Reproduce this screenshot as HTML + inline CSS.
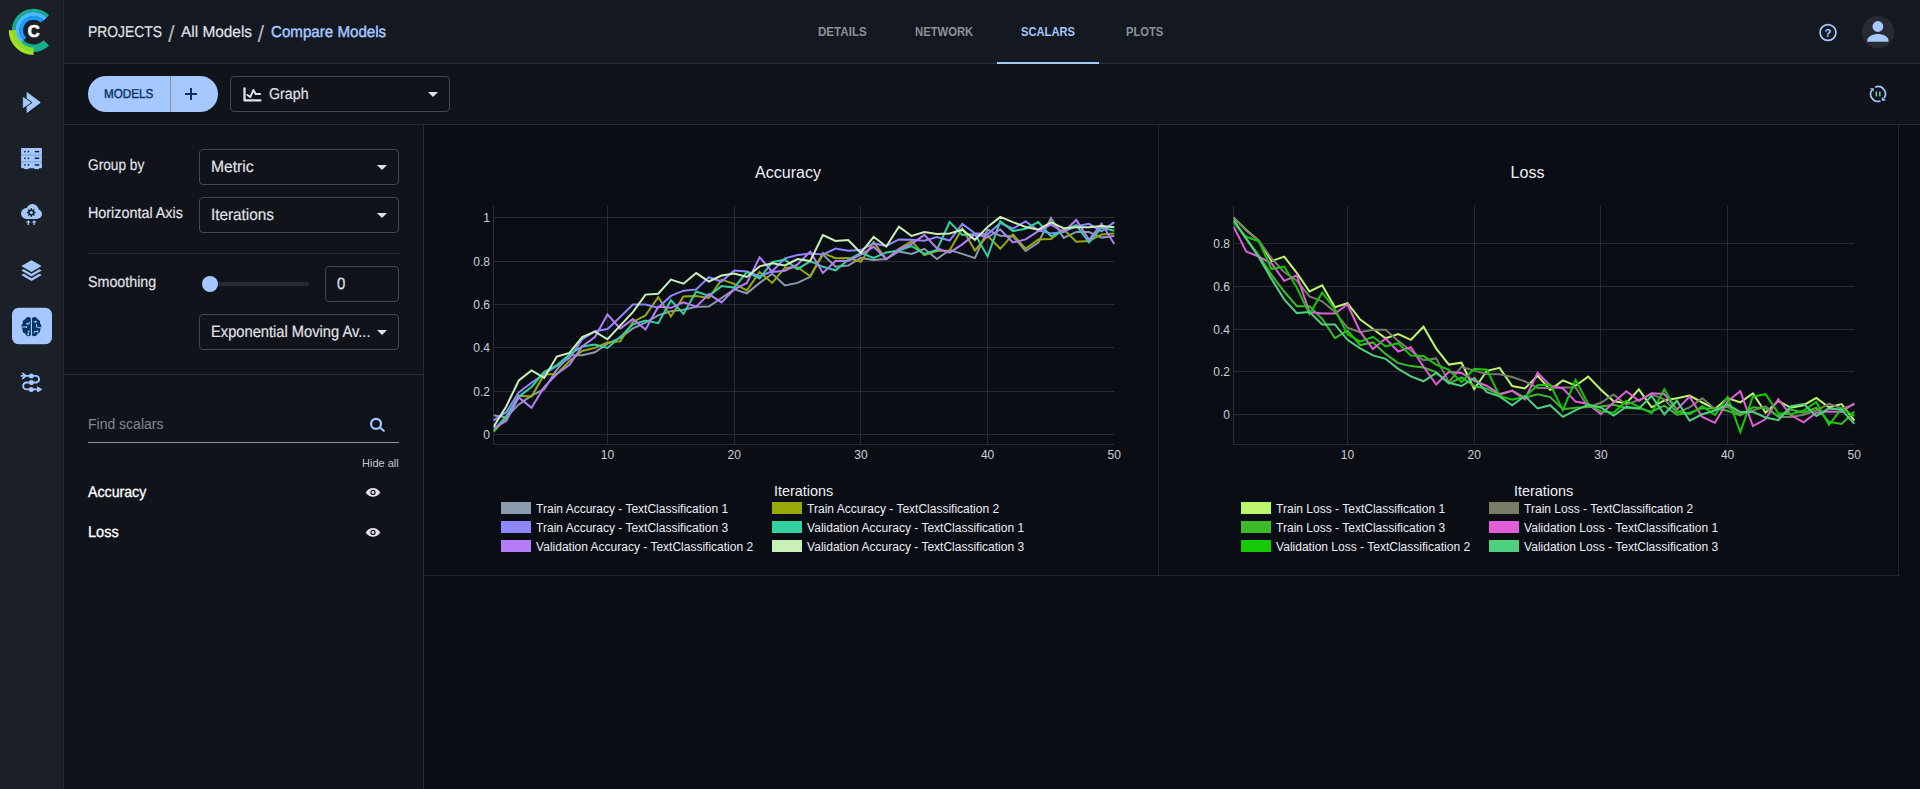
<!DOCTYPE html>
<html lang="en"><head><meta charset="utf-8"><title>ClearML - Compare Models</title>
<style>
*{box-sizing:border-box;margin:0;padding:0}
html,body{width:1920px;height:789px;overflow:hidden;background:#10131a;font-family:"Liberation Sans",sans-serif;color:#e1e2e9}
.abs{position:absolute}
#sidebar{position:absolute;left:0;top:0;width:64px;height:789px;background:#1b1f27;border-right:1px solid #272b34}
#header{position:absolute;left:64px;top:0;width:1856px;height:64px;background:#141820;border-bottom:1px solid #272b34}
#toolbar{position:absolute;left:64px;top:64px;width:1856px;height:61px;background:#10131a;border-bottom:1px solid #272b34}
#leftpanel{position:absolute;left:64px;top:125px;width:360px;height:664px;background:#10131a;border-right:1px solid #272b34}
#main{position:absolute;left:424px;top:125px;width:1496px;height:664px;background:#0a0d14}
#card1{position:absolute;left:424px;top:125px;width:735px;height:451px;border-right:1px solid #22252e;border-bottom:1px solid #22252e}
#card2{position:absolute;left:1159px;top:125px;width:740px;height:451px;border-right:1px solid #22252e;border-bottom:1px solid #22252e}
.t{position:absolute;white-space:nowrap;line-height:1}
.crumb{font-size:14.5px;color:#e1e2e9;top:24.5px}
.tab{font-size:12.5px;font-weight:bold;color:#8d9199;top:25.7px;transform-origin:0 50%}
.tab.on{color:#a4c8ff}
.lbl{font-size:14px;color:#e1e2e9}
.sel{position:absolute;border:1px solid #43474e;border-radius:4px;height:37px;background:transparent}
.sel .v{position:absolute;left:11px;top:8.4px;font-size:15px;color:#e1e2e9;white-space:nowrap;line-height:1}
.caret{position:absolute;width:0;height:0;border-left:5px solid transparent;border-right:5px solid transparent;border-top:5px solid #e1e2e9}
svg{position:absolute;left:0;top:0;overflow:visible}
.tick{font-family:"Liberation Sans",sans-serif;font-size:12px;fill:#cdd0d8}
.ctitle{font-family:"Liberation Sans",sans-serif;font-size:16px;fill:#eef0f6}
.xtitle{font-family:"Liberation Sans",sans-serif;font-size:14.4px;fill:#eef0f6}
.leg{font-family:"Liberation Sans",sans-serif;font-size:12px;fill:#eceef4}

</style></head>
<body>
<div id="main"></div>
<div id="card1"></div>
<div id="card2"></div>
<div id="sidebar"></div>
<div id="header"></div>
<div id="toolbar"></div>
<div id="leftpanel"></div>

<!-- header text -->
<div class="t" id="s1" style="left:168.1px;top:21.5px;font-size:24px;color:#aeb1ba">/</div>
<div class="t" id="s2" style="left:257.6px;top:21.5px;font-size:24px;color:#aeb1ba">/</div>

<div class="t tab" id="t1" style="left:818.3px;transform:scaleX(0.927)">DETAILS</div>
<div class="t tab" id="t2" style="left:915px;transform:scaleX(0.902)">NETWORK</div>
<div class="t tab on" id="t3" style="left:1021.2px;transform:scaleX(0.894)">SCALARS</div>
<div class="t tab" id="t4" style="left:1125.8px;transform:scaleX(0.894)">PLOTS</div>
<div class="abs" style="left:997px;top:62px;width:102px;height:2px;background:#a4c8ff"></div>

<!-- toolbar -->
<div class="abs" id="modelsbtn" style="left:88px;top:76px;width:130px;height:36px;border-radius:18px;background:#a4c8ff"></div>
<div class="abs" style="left:170px;top:76px;width:1px;height:36px;background:#8a8f9b"></div>
<div class="abs" style="left:185px;top:93px;width:12px;height:2px;background:#0a3160"></div>
<div class="abs" style="left:190px;top:88px;width:2px;height:12px;background:#0a3160"></div>

<div class="sel" style="left:230px;top:76px;width:220px;height:36px"><div class="caret" style="left:197px;top:15px"></div></div>

<!-- left panel -->
<div class="sel" style="left:199px;top:149px;width:200px;height:36px"><div class="caret" style="left:177px;top:15px"></div></div>
<div class="sel" style="left:199px;top:197px;width:200px;height:36px"><div class="caret" style="left:177px;top:15px"></div></div>
<div class="abs" style="left:88px;top:253px;width:311px;height:1px;background:#272b34"></div>
<div class="abs" style="left:210px;top:282px;width:99px;height:4px;border-radius:2px;background:#272a31"></div>
<div class="abs" style="left:202px;top:276px;width:16px;height:16px;border-radius:8px;background:#a4c8ff"></div>
<div class="sel" style="left:325px;top:266px;width:74px;height:36px"></div>
<div class="sel" style="left:199px;top:314px;width:200px;height:36px"><div class="caret" style="left:177px;top:15px"></div></div>
<div class="abs" style="left:64px;top:374px;width:359px;height:1px;background:#272b34"></div>

<div class="t" id="find" style="left:88px;top:417px;font-size:14px;color:#83878f">Find scalars</div>
<div class="abs" style="left:88px;top:442px;width:311px;height:1px;background:#8d9199"></div>
<div class="t" id="hide" style="left:362px;top:458px;font-size:11px;color:#c4c6cf">Hide all</div>

<div class="t" id="c1" style="text-rendering:geometricPrecision;left:87.50px;top:25.40px;font-size:15.7px;color:#e1e2e9;transform:scaleX(0.8848);transform-origin:0 50%;-webkit-text-stroke:0.18px #e1e2e9;">PROJECTS</div>
<div class="t" id="c2" style="text-rendering:geometricPrecision;left:180.60px;top:25.40px;font-size:15.7px;color:#e1e2e9;transform:scaleX(0.9818);transform-origin:0 50%;-webkit-text-stroke:0.18px #e1e2e9;">All Models</div>
<div class="t" id="c3" style="text-rendering:geometricPrecision;left:271.10px;top:25.40px;font-size:15.7px;color:#a4c8ff;transform:scaleX(0.9637);transform-origin:0 50%;-webkit-text-stroke:0.45px #a4c8ff;">Compare Models</div>
<div class="t" id="models" style="text-rendering:geometricPrecision;left:103.60px;top:87.85px;font-size:12.9px;color:#0a3160;transform:scaleX(0.9068);transform-origin:0 50%;-webkit-text-stroke:0.4px #0a3160;">MODELS</div>
<div class="t" id="graph" style="text-rendering:geometricPrecision;left:268.50px;top:87.45px;font-size:15.6px;color:#e1e2e9;transform:scaleX(0.9133);transform-origin:0 50%;-webkit-text-stroke:0.18px #e1e2e9;">Graph</div>
<div class="t" id="l1" style="text-rendering:geometricPrecision;left:87.60px;top:157.70px;font-size:15.5px;color:#e1e2e9;transform:scaleX(0.8831);transform-origin:0 50%;-webkit-text-stroke:0.18px #e1e2e9;">Group by</div>
<div class="t" id="l2" style="text-rendering:geometricPrecision;left:87.60px;top:205.70px;font-size:15.5px;color:#e1e2e9;transform:scaleX(0.9257);transform-origin:0 50%;-webkit-text-stroke:0.18px #e1e2e9;">Horizontal Axis</div>
<div class="t" id="l3" style="text-rendering:geometricPrecision;left:87.60px;top:275.48px;font-size:15.5px;color:#e1e2e9;transform:scaleX(0.9203);transform-origin:0 50%;-webkit-text-stroke:0.18px #e1e2e9;">Smoothing</div>
<div class="t" id="v1" style="text-rendering:geometricPrecision;left:210.80px;top:158.85px;font-size:16.3px;color:#e1e2e9;transform:scaleX(0.9623);transform-origin:0 50%;-webkit-text-stroke:0.18px #e1e2e9;">Metric</div>
<div class="t" id="v2" style="text-rendering:geometricPrecision;left:210.80px;top:206.85px;font-size:16.3px;color:#e1e2e9;transform:scaleX(0.9396);transform-origin:0 50%;-webkit-text-stroke:0.18px #e1e2e9;">Iterations</div>
<div class="t" id="v3" style="text-rendering:geometricPrecision;left:336.60px;top:275.85px;font-size:16.3px;color:#e1e2e9;transform:scaleX(0.9156);transform-origin:0 50%;-webkit-text-stroke:0.18px #e1e2e9;">0</div>
<div class="t" id="v4" style="text-rendering:geometricPrecision;left:210.80px;top:323.85px;font-size:16.3px;color:#e1e2e9;transform:scaleX(0.9023);transform-origin:0 50%;-webkit-text-stroke:0.18px #e1e2e9;">Exponential Moving Av...</div>
<div class="t" id="m1" style="text-rendering:geometricPrecision;left:87.60px;top:485.48px;font-size:15.5px;color:#ffffff;transform:scaleX(0.9146);transform-origin:0 50%;-webkit-text-stroke:0.3px #ffffff;">Accuracy</div>
<div class="t" id="m2" style="text-rendering:geometricPrecision;left:87.60px;top:525.48px;font-size:15.5px;color:#ffffff;transform:scaleX(0.9407);transform-origin:0 50%;-webkit-text-stroke:0.3px #ffffff;">Loss</div>
<svg width="1920" height="789" viewBox="0 0 1920 789">
<line x1="607.5" y1="205.5" x2="607.5" y2="444.5" stroke="#272a33" stroke-width="1"/>
<line x1="734.5" y1="205.5" x2="734.5" y2="444.5" stroke="#272a33" stroke-width="1"/>
<line x1="860.5" y1="205.5" x2="860.5" y2="444.5" stroke="#272a33" stroke-width="1"/>
<line x1="987.5" y1="205.5" x2="987.5" y2="444.5" stroke="#272a33" stroke-width="1"/>
<line x1="493.5" y1="434.5" x2="1114.3" y2="434.5" stroke="#272a33" stroke-width="1"/>
<text x="490.0" y="438.6" text-anchor="end" class="tick">0</text>
<line x1="493.5" y1="391.5" x2="1114.3" y2="391.5" stroke="#272a33" stroke-width="1"/>
<text x="490.0" y="395.6" text-anchor="end" class="tick">0.2</text>
<line x1="493.5" y1="347.5" x2="1114.3" y2="347.5" stroke="#272a33" stroke-width="1"/>
<text x="490.0" y="351.6" text-anchor="end" class="tick">0.4</text>
<line x1="493.5" y1="304.5" x2="1114.3" y2="304.5" stroke="#272a33" stroke-width="1"/>
<text x="490.0" y="308.6" text-anchor="end" class="tick">0.6</text>
<line x1="493.5" y1="261.5" x2="1114.3" y2="261.5" stroke="#272a33" stroke-width="1"/>
<text x="490.0" y="265.6" text-anchor="end" class="tick">0.8</text>
<line x1="493.5" y1="217.5" x2="1114.3" y2="217.5" stroke="#272a33" stroke-width="1"/>
<text x="490.0" y="221.6" text-anchor="end" class="tick">1</text>
<line x1="493.5" y1="205.5" x2="493.5" y2="444.5" stroke="#292c36" stroke-width="1"/>
<line x1="493.5" y1="444.5" x2="1114.3" y2="444.5" stroke="#292c36" stroke-width="1"/>
<text x="607.5" y="459" text-anchor="middle" class="tick">10</text>
<text x="734.2" y="459" text-anchor="middle" class="tick">20</text>
<text x="860.9" y="459" text-anchor="middle" class="tick">30</text>
<text x="987.6" y="459" text-anchor="middle" class="tick">40</text>
<text x="1114.3" y="459" text-anchor="middle" class="tick">50</text>
<clipPath id="clip0"><rect x="493.5" y="205.5" width="621.8" height="239.0"/></clipPath>
<g clip-path="url(#clip0)" fill="none" stroke-width="2" stroke-linejoin="miter">
<polyline points="493.5,415.2 506.2,417.4 518.8,404.4 531.5,395.7 544.2,389.2 556.8,369.6 569.5,355.3 582.2,355.3 594.9,352.3 607.5,343.6 620.2,337.8 632.9,328.4 645.5,322.6 658.2,315.4 670.9,311.3 683.5,309.8 696.2,306.7 708.9,306.5 721.5,298.0 734.2,289.4 746.9,293.3 759.6,282.9 772.2,273.7 784.9,285.5 797.6,282.9 810.2,276.8 822.9,254.6 835.6,266.8 848.2,265.5 860.9,257.9 873.6,260.1 886.3,259.0 898.9,251.4 911.6,253.9 924.3,248.8 936.9,259.0 949.6,250.0 962.3,253.9 974.9,258.1 987.6,229.7 1000.3,235.8 1012.9,236.2 1025.6,251.0 1038.3,242.5 1051.0,218.0 1063.6,237.9 1076.3,231.9 1089.0,232.1 1101.6,237.6 1114.3,235.9" stroke="#8a9bb0"/>
<polyline points="493.5,431.9 506.2,418.0 518.8,395.7 531.5,396.6 544.2,374.4 556.8,374.0 569.5,361.0 582.2,351.0 594.9,347.9 607.5,342.5 620.2,341.4 632.9,321.9 645.5,315.4 658.2,297.2 670.9,316.5 683.5,296.5 696.2,295.9 708.9,298.0 721.5,279.6 734.2,283.9 746.9,290.4 759.6,272.0 772.2,282.9 784.9,267.7 797.6,267.2 810.2,276.3 822.9,253.1 835.6,258.3 848.2,258.1 860.9,261.8 873.6,242.1 886.3,259.4 898.9,248.8 911.6,241.2 924.3,255.1 936.9,251.0 949.6,250.5 962.3,228.2 974.9,250.5 987.6,235.8 1000.3,248.8 1012.9,234.4 1025.6,248.7 1038.3,239.4 1051.0,239.0 1063.6,229.3 1076.3,241.7 1089.0,241.0 1101.6,234.4 1114.3,233.6" stroke="#96a80a"/>
<polyline points="493.5,420.4 506.2,412.2 518.8,392.4 531.5,382.7 544.2,374.0 556.8,366.0 569.5,358.1 582.2,339.3 594.9,331.2 607.5,329.1 620.2,317.1 632.9,304.6 645.5,304.6 658.2,307.6 670.9,295.9 683.5,290.7 696.2,289.4 708.9,277.2 721.5,281.5 734.2,270.5 746.9,271.6 759.6,276.3 772.2,271.3 784.9,258.3 797.6,255.1 810.2,253.6 822.9,254.6 835.6,248.6 848.2,250.7 860.9,250.1 873.6,243.4 886.3,246.0 898.9,239.4 911.6,239.7 924.3,240.8 936.9,237.1 949.6,240.5 962.3,224.0 974.9,233.2 987.6,234.2 1000.3,223.0 1012.9,228.7 1025.6,221.5 1038.3,230.2 1051.0,233.4 1063.6,231.9 1076.3,226.2 1089.0,223.8 1101.6,231.2 1114.3,222.1" stroke="#8f87ff"/>
<polyline points="493.5,430.8 506.2,416.1 518.8,396.6 531.5,387.0 544.2,371.8 556.8,365.3 569.5,354.5 582.2,346.4 594.9,344.5 607.5,347.9 620.2,337.1 632.9,324.3 645.5,320.6 658.2,323.2 670.9,300.2 683.5,313.9 696.2,291.5 708.9,295.9 721.5,286.1 734.2,287.6 746.9,272.0 759.6,278.5 772.2,262.2 784.9,259.6 797.6,269.2 810.2,261.1 822.9,266.8 835.6,270.3 848.2,259.8 860.9,252.9 873.6,257.9 886.3,252.5 898.9,250.5 911.6,246.0 924.3,253.9 936.9,250.0 949.6,222.1 962.3,234.9 974.9,234.0 987.6,256.4 1000.3,221.2 1012.9,231.1 1025.6,228.7 1038.3,222.1 1051.0,236.4 1063.6,230.8 1076.3,225.1 1089.0,242.5 1101.6,227.7 1114.3,230.8" stroke="#33d1a0"/>
<polyline points="493.5,428.2 506.2,421.1 518.8,397.4 531.5,407.8 544.2,387.0 556.8,374.0 569.5,364.7 582.2,346.4 594.9,337.1 607.5,314.5 620.2,328.6 632.9,319.1 645.5,329.5 658.2,306.7 670.9,307.8 683.5,302.4 696.2,306.7 708.9,294.1 721.5,302.4 734.2,289.4 746.9,282.9 759.6,257.2 772.2,272.0 784.9,270.7 797.6,264.4 810.2,251.6 822.9,272.9 835.6,261.1 848.2,261.1 860.9,254.6 873.6,246.8 886.3,259.0 898.9,249.4 911.6,243.8 924.3,234.9 936.9,248.3 949.6,252.7 962.3,244.4 974.9,234.2 987.6,237.3 1000.3,229.5 1012.9,242.5 1025.6,239.4 1038.3,231.2 1051.0,224.7 1063.6,231.9 1076.3,219.9 1089.0,239.9 1101.6,223.8 1114.3,244.0" stroke="#b57ef7"/>
<polyline points="493.5,426.9 506.2,406.5 518.8,380.5 531.5,370.5 544.2,377.9 556.8,356.6 569.5,352.9 582.2,337.1 594.9,331.7 607.5,339.3 620.2,325.6 632.9,312.1 645.5,294.6 658.2,293.7 670.9,279.6 683.5,283.7 696.2,273.1 708.9,281.5 721.5,275.5 734.2,273.5 746.9,277.0 759.6,266.4 772.2,263.3 784.9,265.5 797.6,259.0 810.2,261.1 822.9,235.1 835.6,241.0 848.2,240.1 860.9,252.9 873.6,236.8 886.3,246.6 898.9,226.6 911.6,236.0 924.3,232.1 936.9,234.0 949.6,233.4 962.3,229.7 974.9,239.9 987.6,226.9 1000.3,216.9 1012.9,222.1 1025.6,227.0 1038.3,229.7 1051.0,222.3 1063.6,228.2 1076.3,227.3 1089.0,227.3 1101.6,226.0 1114.3,227.3" stroke="#c8f0b8"/>
</g>
<text x="788" y="178" text-anchor="middle" class="ctitle">Accuracy</text>
<text x="803.5" y="496" text-anchor="middle" class="xtitle">Iterations</text>
<rect x="501" y="502" width="30" height="12" fill="#8a9bb0"/>
<text x="536.1" y="512.9" class="leg" textLength="192" lengthAdjust="spacingAndGlyphs">Train Accuracy - TextClassification 1</text>
<rect x="772" y="502" width="30" height="12" fill="#96a80a"/>
<text x="807.1" y="512.9" class="leg" textLength="192" lengthAdjust="spacingAndGlyphs">Train Accuracy - TextClassification 2</text>
<rect x="501" y="521" width="30" height="12" fill="#8f87ff"/>
<text x="536.1" y="531.9" class="leg" textLength="192" lengthAdjust="spacingAndGlyphs">Train Accuracy - TextClassification 3</text>
<rect x="772" y="521" width="30" height="12" fill="#33d1a0"/>
<text x="807.1" y="531.9" class="leg" textLength="217" lengthAdjust="spacingAndGlyphs">Validation Accuracy - TextClassification 1</text>
<rect x="501" y="540" width="30" height="12" fill="#b57ef7"/>
<text x="536.1" y="550.9" class="leg" textLength="217" lengthAdjust="spacingAndGlyphs">Validation Accuracy - TextClassification 2</text>
<rect x="772" y="540" width="30" height="12" fill="#c8f0b8"/>
<text x="807.1" y="550.9" class="leg" textLength="217" lengthAdjust="spacingAndGlyphs">Validation Accuracy - TextClassification 3</text>
<line x1="1347.5" y1="205.5" x2="1347.5" y2="444.5" stroke="#272a33" stroke-width="1"/>
<line x1="1474.5" y1="205.5" x2="1474.5" y2="444.5" stroke="#272a33" stroke-width="1"/>
<line x1="1600.5" y1="205.5" x2="1600.5" y2="444.5" stroke="#272a33" stroke-width="1"/>
<line x1="1727.5" y1="205.5" x2="1727.5" y2="444.5" stroke="#272a33" stroke-width="1"/>
<line x1="1233.5" y1="414.5" x2="1854.3" y2="414.5" stroke="#272a33" stroke-width="1"/>
<text x="1230.0" y="418.6" text-anchor="end" class="tick">0</text>
<line x1="1233.5" y1="371.5" x2="1854.3" y2="371.5" stroke="#272a33" stroke-width="1"/>
<text x="1230.0" y="375.6" text-anchor="end" class="tick">0.2</text>
<line x1="1233.5" y1="329.5" x2="1854.3" y2="329.5" stroke="#272a33" stroke-width="1"/>
<text x="1230.0" y="333.6" text-anchor="end" class="tick">0.4</text>
<line x1="1233.5" y1="286.5" x2="1854.3" y2="286.5" stroke="#272a33" stroke-width="1"/>
<text x="1230.0" y="290.6" text-anchor="end" class="tick">0.6</text>
<line x1="1233.5" y1="243.5" x2="1854.3" y2="243.5" stroke="#272a33" stroke-width="1"/>
<text x="1230.0" y="247.6" text-anchor="end" class="tick">0.8</text>
<line x1="1233.5" y1="205.5" x2="1233.5" y2="444.5" stroke="#292c36" stroke-width="1"/>
<line x1="1233.5" y1="444.5" x2="1854.3" y2="444.5" stroke="#292c36" stroke-width="1"/>
<text x="1347.5" y="459" text-anchor="middle" class="tick">10</text>
<text x="1474.2" y="459" text-anchor="middle" class="tick">20</text>
<text x="1600.9" y="459" text-anchor="middle" class="tick">30</text>
<text x="1727.6" y="459" text-anchor="middle" class="tick">40</text>
<text x="1854.3" y="459" text-anchor="middle" class="tick">50</text>
<clipPath id="clip740"><rect x="1233.5" y="205.5" width="621.8" height="239.0"/></clipPath>
<g clip-path="url(#clip740)" fill="none" stroke-width="2" stroke-linejoin="miter">
<polyline points="1233.5,217.5 1246.2,229.9 1258.8,240.6 1271.5,261.1 1284.2,256.6 1296.8,272.9 1309.5,291.5 1322.2,285.3 1334.9,307.2 1347.5,303.2 1360.2,319.5 1372.9,328.7 1385.5,338.3 1398.2,334.0 1410.9,339.8 1423.5,326.7 1436.2,348.6 1448.9,364.6 1461.5,362.7 1474.2,389.0 1486.9,370.8 1499.6,367.9 1512.2,386.0 1524.9,388.5 1537.6,375.8 1550.2,389.8 1562.9,380.4 1575.6,385.7 1588.2,376.6 1600.9,389.8 1613.6,401.2 1626.3,403.1 1638.9,389.4 1651.6,407.3 1664.3,400.4 1676.9,398.2 1689.6,395.6 1702.3,402.5 1714.9,408.9 1727.6,398.1 1740.3,402.4 1752.9,393.5 1765.6,412.7 1778.3,400.9 1791.0,407.8 1803.6,405.2 1816.3,397.9 1829.0,407.3 1841.6,404.1 1854.3,420.7" stroke="#bdf56c"/>
<polyline points="1233.5,217.1 1246.2,230.8 1258.8,240.6 1271.5,258.3 1284.2,272.0 1296.8,280.8 1309.5,296.4 1322.2,301.3 1334.9,312.0 1347.5,327.8 1360.2,332.3 1372.9,329.7 1385.5,329.7 1398.2,340.9 1410.9,350.8 1423.5,360.3 1436.2,358.4 1448.9,382.1 1461.5,366.8 1474.2,370.6 1486.9,374.0 1499.6,374.2 1512.2,377.0 1524.9,381.3 1537.6,387.9 1550.2,387.9 1562.9,387.5 1575.6,387.5 1588.2,407.3 1600.9,402.8 1613.6,394.4 1626.3,404.7 1638.9,399.9 1651.6,394.3 1664.3,399.3 1676.9,412.7 1689.6,407.3 1702.3,398.2 1714.9,408.9 1727.6,406.8 1740.3,414.3 1752.9,410.5 1765.6,406.3 1778.3,417.0 1791.0,417.0 1803.6,414.8 1816.3,410.5 1829.0,403.9 1841.6,408.4 1854.3,404.6" stroke="#7a7d68"/>
<polyline points="1233.5,221.2 1246.2,238.7 1258.8,255.4 1271.5,274.8 1284.2,291.5 1296.8,306.2 1309.5,306.2 1322.2,318.8 1334.9,338.1 1347.5,330.6 1360.2,345.1 1372.9,342.4 1385.5,353.9 1398.2,363.1 1410.9,366.1 1423.5,367.6 1436.2,372.1 1448.9,383.6 1461.5,377.5 1474.2,386.0 1486.9,388.7 1499.6,394.8 1512.2,390.5 1524.9,397.7 1537.6,394.3 1550.2,397.1 1562.9,409.3 1575.6,407.8 1588.2,407.0 1600.9,406.5 1613.6,404.7 1626.3,407.9 1638.9,408.4 1651.6,411.6 1664.3,405.7 1676.9,414.8 1689.6,412.7 1702.3,408.4 1714.9,408.4 1727.6,410.8 1740.3,415.3 1752.9,407.3 1765.6,408.4 1778.3,415.9 1791.0,409.5 1803.6,412.7 1816.3,407.8 1829.0,421.8 1841.6,423.9 1854.3,411.6" stroke="#3dba2a"/>
<polyline points="1233.5,226.5 1246.2,251.5 1258.8,256.6 1271.5,263.3 1284.2,280.8 1296.8,275.4 1309.5,312.0 1322.2,313.5 1334.9,313.5 1347.5,304.5 1360.2,331.7 1372.9,349.0 1385.5,338.5 1398.2,351.5 1410.9,347.1 1423.5,366.8 1436.2,384.5 1448.9,371.9 1461.5,372.9 1474.2,380.8 1486.9,386.0 1499.6,393.9 1512.2,390.9 1524.9,399.4 1537.6,372.7 1550.2,385.7 1562.9,388.5 1575.6,401.6 1588.2,403.9 1600.9,414.3 1613.6,402.6 1626.3,391.3 1638.9,400.9 1651.6,393.2 1664.3,394.0 1676.9,409.5 1689.6,396.6 1702.3,417.0 1714.9,422.8 1727.6,401.3 1740.3,391.2 1752.9,426.1 1765.6,419.1 1778.3,399.2 1791.0,415.3 1803.6,422.3 1816.3,412.7 1829.0,411.6 1841.6,412.1 1854.3,403.3" stroke="#e05fd8"/>
<polyline points="1233.5,222.2 1246.2,236.8 1258.8,241.2 1271.5,269.0 1284.2,266.5 1296.8,287.6 1309.5,314.1 1322.2,292.5 1334.9,309.2 1347.5,334.4 1360.2,341.7 1372.9,336.8 1385.5,346.5 1398.2,343.2 1410.9,355.6 1423.5,356.1 1436.2,364.6 1448.9,369.9 1461.5,382.1 1474.2,368.9 1486.9,369.7 1499.6,396.0 1512.2,399.6 1524.9,396.9 1537.6,385.2 1550.2,384.5 1562.9,410.1 1575.6,379.9 1588.2,403.9 1600.9,411.4 1613.6,412.8 1626.3,400.9 1638.9,406.8 1651.6,413.2 1664.3,389.2 1676.9,411.1 1689.6,414.3 1702.3,406.3 1714.9,415.0 1727.6,397.1 1740.3,432.0 1752.9,396.6 1765.6,394.2 1778.3,413.2 1791.0,414.3 1803.6,410.5 1816.3,402.0 1829.0,425.0 1841.6,408.4 1854.3,415.9" stroke="#17c807"/>
<polyline points="1233.5,219.6 1246.2,238.7 1258.8,257.3 1271.5,278.9 1284.2,299.4 1296.8,313.1 1309.5,312.0 1322.2,324.4 1334.9,324.4 1347.5,339.8 1360.2,348.3 1372.9,355.4 1385.5,358.8 1398.2,368.9 1410.9,376.4 1423.5,381.3 1436.2,372.9 1448.9,382.8 1461.5,386.0 1474.2,378.0 1486.9,392.2 1499.6,396.4 1512.2,405.2 1524.9,396.0 1537.6,408.4 1550.2,405.2 1562.9,416.9 1575.6,410.1 1588.2,404.8 1600.9,407.5 1613.6,415.5 1626.3,406.8 1638.9,408.4 1651.6,396.1 1664.3,414.3 1676.9,400.7 1689.6,420.7 1702.3,414.3 1714.9,410.5 1727.6,404.3 1740.3,412.1 1752.9,411.8 1765.6,417.5 1778.3,420.2 1791.0,406.1 1803.6,404.1 1816.3,415.9 1829.0,408.4 1841.6,409.7 1854.3,423.9" stroke="#4fd07f"/>
</g>
<text x="1527.5" y="178" text-anchor="middle" class="ctitle">Loss</text>
<text x="1543.5" y="496" text-anchor="middle" class="xtitle">Iterations</text>
<rect x="1241" y="502" width="30" height="12" fill="#bdf56c"/>
<text x="1276.1" y="512.9" class="leg" textLength="169" lengthAdjust="spacingAndGlyphs">Train Loss - TextClassification 1</text>
<rect x="1489" y="502" width="30" height="12" fill="#7a7d68"/>
<text x="1524.1" y="512.9" class="leg" textLength="169" lengthAdjust="spacingAndGlyphs">Train Loss - TextClassification 2</text>
<rect x="1241" y="521" width="30" height="12" fill="#3dba2a"/>
<text x="1276.1" y="531.9" class="leg" textLength="169" lengthAdjust="spacingAndGlyphs">Train Loss - TextClassification 3</text>
<rect x="1489" y="521" width="30" height="12" fill="#e05fd8"/>
<text x="1524.1" y="531.9" class="leg" textLength="194" lengthAdjust="spacingAndGlyphs">Validation Loss - TextClassification 1</text>
<rect x="1241" y="540" width="30" height="12" fill="#17c807"/>
<text x="1276.1" y="550.9" class="leg" textLength="194" lengthAdjust="spacingAndGlyphs">Validation Loss - TextClassification 2</text>
<rect x="1489" y="540" width="30" height="12" fill="#4fd07f"/>
<text x="1524.1" y="550.9" class="leg" textLength="194" lengthAdjust="spacingAndGlyphs">Validation Loss - TextClassification 3</text>
<path d="M47.64,44.34A19.93,19.93 0 1 1 47.88,16.41" fill="none" stroke="#14ae8c" stroke-width="3.25"/>
<path d="M46.19,42.89A17.88,17.88 0 0 1 20.69,42.67" fill="none" stroke="#14ae8c" stroke-width="7.35"/>
<path d="M22.06,41.74A16.25,16.25 0 1 1 45.24,18.96" fill="none" stroke="#4db8ff" stroke-width="4.30"/>
<path d="M24.78,39.02A12.40,12.40 0 0 1 42.16,21.33" fill="none" stroke="#1a9cff" stroke-width="3.60"/>
<path d="M33.55,49.45A19.20,19.20 0 0 1 14.35,30.25" fill="none" stroke="#8edc27" stroke-width="3.60"/>
<path d="M33.55,53.10A22.85,22.85 0 0 1 10.70,30.25" fill="none" stroke="#a6e220" stroke-width="3.90"/>
<text x="33.6" y="37.3" text-anchor="middle" font-family="Liberation Sans, sans-serif" font-weight="bold" font-size="16.5" fill="#fff" stroke="#fff" stroke-width="0.7">C</text>
<path d="M27.2,92.9L39.9,102.5L27.2,112.1Z" fill="#a4c8ff" stroke="#a4c8ff" stroke-width="1.2" stroke-linejoin="round"/>
<path d="M23.3,97.5L30.7,102.5L23.3,107.6Z" fill="#a4c8ff" stroke="#1b1f27" stroke-width="2.3" stroke-linejoin="round"/>
<path d="M23.3,97.5L30.7,102.5L23.3,107.6Z" fill="#a4c8ff" stroke="#a4c8ff" stroke-width="0.9" stroke-linejoin="round"/>
<rect x="21.1" y="147.9" width="20.8" height="20.3" rx="0.8" fill="#a4c8ff"/>
<rect x="24.2" y="168" width="4.5" height="1.1" fill="#a4c8ff"/><rect x="34.3" y="168" width="4.6" height="1.1" fill="#a4c8ff"/>
<rect x="21.1" y="154.6" width="20.8" height="1" fill="#7f9fd2"/>
<rect x="21.1" y="161.3" width="20.8" height="1" fill="#7f9fd2"/>
<rect x="24.2" y="150.85" width="1.5" height="1.5" fill="#1b1f27"/><rect x="27.7" y="150.85" width="1.5" height="1.5" fill="#1b1f27"/><rect x="34.8" y="150.85" width="4.4" height="1.5" fill="#1b1f27"/>
<rect x="24.2" y="157.55" width="1.5" height="1.5" fill="#1b1f27"/><rect x="27.7" y="157.55" width="1.5" height="1.5" fill="#1b1f27"/><rect x="34.8" y="157.55" width="4.4" height="1.5" fill="#1b1f27"/>
<rect x="24.2" y="164.15" width="1.5" height="1.5" fill="#1b1f27"/><rect x="27.7" y="164.15" width="1.5" height="1.5" fill="#1b1f27"/><rect x="34.8" y="164.15" width="4.4" height="1.5" fill="#1b1f27"/>
<clipPath id="cl"><rect x="18" y="200" width="28" height="18.9"/></clipPath><g clip-path="url(#cl)" fill="#a4c8ff"><circle cx="26.4" cy="213.5" r="5.4"/><circle cx="32.5" cy="210.4" r="6.3"/><circle cx="37.3" cy="214" r="4.7"/><rect x="26" y="212" width="11.5" height="7"/></g>
<rect x="30.55" y="208.2" width="1.5" height="8.6" transform="rotate(0 31.3 212.5)" fill="#1b1f27"/><rect x="30.55" y="208.2" width="1.5" height="8.6" transform="rotate(45 31.3 212.5)" fill="#1b1f27"/><rect x="30.55" y="208.2" width="1.5" height="8.6" transform="rotate(90 31.3 212.5)" fill="#1b1f27"/><rect x="30.55" y="208.2" width="1.5" height="8.6" transform="rotate(135 31.3 212.5)" fill="#1b1f27"/>
<circle cx="31.3" cy="212.5" r="3" fill="#1b1f27"/><circle cx="31.3" cy="212.5" r="1.5" fill="#a4c8ff"/>
<path d="M28.3,220.3L30.900000000000002,222.6L29.0,222.6L29.0,224.9L27.6,224.9L27.6,222.6L25.7,222.6Z" fill="#a4c8ff"/>
<path d="M34.1,220.3L36.7,222.6L34.800000000000004,222.6L34.800000000000004,224.9L33.4,224.9L33.4,222.6L31.5,222.6Z" fill="#a4c8ff"/>
<path d="M21.3,275.1L31.5,269.3L41.7,275.1L31.5,280.90000000000003Z" fill="#a4c8ff" stroke="#1b1f27" stroke-width="3" stroke-linejoin="miter" paint-order="stroke"/>
<path d="M21.3,270.6L31.5,264.8L41.7,270.6L31.5,276.40000000000003Z" fill="#a4c8ff" stroke="#1b1f27" stroke-width="3" stroke-linejoin="miter" paint-order="stroke"/>
<path d="M21.3,266.1L31.5,260.3L41.7,266.1L31.5,271.90000000000003Z" fill="#a4c8ff" stroke="#1b1f27" stroke-width="3" stroke-linejoin="miter" paint-order="stroke"/>
<rect x="12" y="307.8" width="40" height="36.4" rx="6.5" fill="#a4c8ff"/>
<g transform="translate(0 317.0) scale(1 1.125) translate(0 -317.1)">
<path d="M30.8,318.2c-1.6,-1.6 -4.6,-1.3 -5.4,0.9c-2,0.2 -3.1,2 -2.6,3.7c-1.7,1.2 -1.9,3.7 -0.2,5.1c-0.5,2 0.8,3.7 2.7,3.9c0.6,2.6 3.9,3.2 5.5,1.6Z" fill="#063461"/>
<path d="M32.0,318.2c1.6,-1.6 4.6,-1.3 5.4,0.9c2,0.2 3.1,2 2.6,3.7c1.7,1.2 1.9,3.7 0.2,5.1c0.5,2 -0.8,3.7 -2.7,3.9c-0.6,2.6 -3.9,3.2 -5.5,1.6Z" fill="#063461"/>
<g stroke="#a4c8ff" stroke-width="0.9" fill="none"><path d="M21.5,326h4.2"/><path d="M27.2,323h2v-1.6"/><path d="M28.2,332.5v-2.8h1.6"/><path d="M41,326.6h-3.6"/><path d="M33.6,321.4h2.3"/><path d="M33.6,331.6l1.2,-1.6h2.6"/><path d="M36.6,323.4v2.4"/></g>
<g fill="#a4c8ff"><circle cx="26.3" cy="326" r="0.9"/><circle cx="27.2" cy="323" r="0.9"/><circle cx="28.2" cy="332.6" r="0.9"/><circle cx="36.6" cy="325.6" r="0.9"/><circle cx="35.9" cy="321.4" r="0.9"/><circle cx="37.6" cy="330" r="0.9"/></g>
</g>
<path d="M21.6,375.9H35.8a3.3,3.3 0 0 1 0,6.6H26.6a3.45,3.45 0 0 0 0,6.9H39.5" fill="none" stroke="#a4c8ff" stroke-width="1.9" stroke-linecap="round"/>
<circle cx="31.3" cy="375.9" r="2.5" fill="#a4c8ff"/>
<circle cx="31.3" cy="382.5" r="2.5" fill="#a4c8ff"/>
<circle cx="31.3" cy="389.4" r="2.5" fill="#a4c8ff"/>
<path d="M37.6,386.9L41.6,389.4L37.6,391.9Z" fill="#a4c8ff" stroke="#a4c8ff" stroke-width="1" stroke-linejoin="round"/>
<path d="M22.8,373.4L26,375.9L22.8,378.4" fill="none" stroke="#a4c8ff" stroke-width="1.8" stroke-linecap="round" stroke-linejoin="round"/>
<circle cx="1828" cy="32.5" r="7.95" fill="none" stroke="#a4c8ff" stroke-width="1.7"/>
<text x="1828" y="36.6" text-anchor="middle" font-family="Liberation Sans, sans-serif" font-weight="bold" font-size="11.5" fill="#a4c8ff">?</text>
<circle cx="1878" cy="32" r="16.2" fill="#272a31"/>
<circle cx="1877.9" cy="26.5" r="5.4" fill="#a4c8ff"/>
<path d="M1867.3,41.8v-1.6c0,-3.6 5.6,-6.3 10.6,-6.3s10.6,2.7 10.6,6.3v1.6Z" fill="#a4c8ff"/>
<path d="M1875.23,87.14A7.40,7.40 0 0 1 1883.99,98.35" fill="none" stroke="#a4c8ff" stroke-width="1.7"/>
<path d="M1880.53,100.95A7.40,7.40 0 0 1 1871.87,89.86" fill="none" stroke="#a4c8ff" stroke-width="1.7"/>
<path d="M1881.8,97.1V100.8H1886.0Z" fill="#a4c8ff"/>
<path d="M1869.8,88.2H1873.8V91.8Z" fill="#a4c8ff"/>
<rect x="1875.6" y="91.3" width="1.5" height="5.2" rx="0.6" fill="#66d9a8"/><rect x="1879.1" y="91.3" width="1.5" height="5.2" rx="0.6" fill="#66d9a8"/>
<path d="M244.5,88.3V100.4H260.4" fill="none" stroke="#e1e2e9" stroke-width="2.3" stroke-linecap="round" stroke-linejoin="round"/>
<path d="M247.4,94.9L250.3,97.1L253.4,89.9L255.6,94H260.2" fill="none" stroke="#e1e2e9" stroke-width="1.9" stroke-linecap="round" stroke-linejoin="round"/>
<circle cx="376.05" cy="423.9" r="4.95" fill="none" stroke="#a4c8ff" stroke-width="2.2"/><path d="M379.8,427.5L383.8,430.8" stroke="#a4c8ff" stroke-width="2.1" stroke-linecap="round"/>
<path d="M365.7,492.4c2,-3.0 4.6,-4.35 7.3,-4.35s5.3,1.35 7.3,4.35c-2,3.0 -4.6,4.35 -7.3,4.35s-5.3,-1.35 -7.3,-4.35Z" fill="#e1e2e9"/>
<circle cx="373" cy="492.4" r="2.05" fill="none" stroke="#10131a" stroke-width="1.15"/>
<path d="M365.7,532.4c2,-3.0 4.6,-4.35 7.3,-4.35s5.3,1.35 7.3,4.35c-2,3.0 -4.6,4.35 -7.3,4.35s-5.3,-1.35 -7.3,-4.35Z" fill="#e1e2e9"/>
<circle cx="373" cy="532.4" r="2.05" fill="none" stroke="#10131a" stroke-width="1.15"/>
</svg>

</body></html>
